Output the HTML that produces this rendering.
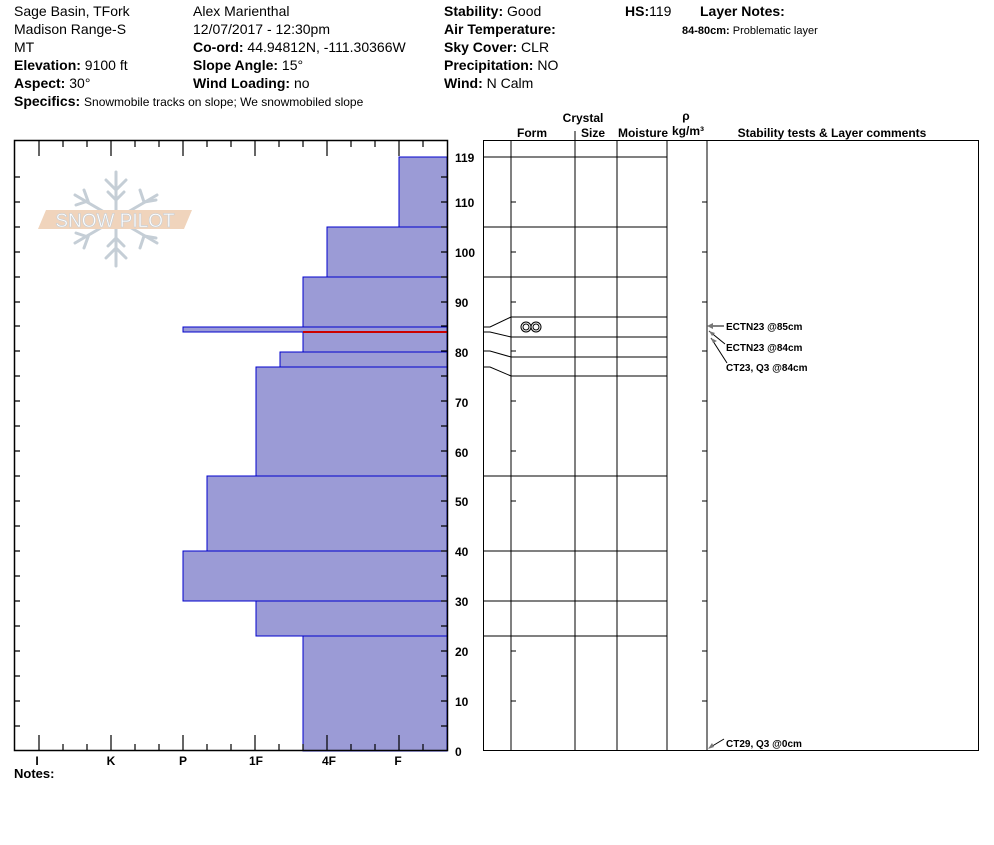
<!DOCTYPE html>
<html><head><style>
body{margin:0;background:#fff;}
svg text{font-family:"Liberation Sans",Arial,sans-serif;}
</style></head><body>
<svg width="994" height="840" viewBox="0 0 994 840" xmlns="http://www.w3.org/2000/svg">
<g font-size="14" fill="#000">
<text x="14" y="16">Sage Basin, TFork</text>
<text x="14" y="34">Madison Range-S</text>
<text x="14" y="52">MT</text>
<text x="14" y="70"><tspan font-weight="bold">Elevation:</tspan> 9100 ft</text>
<text x="14" y="88"><tspan font-weight="bold">Aspect:</tspan> 30°</text>
<text x="14" y="106"><tspan font-weight="bold">Specifics:</tspan> <tspan font-size="12">Snowmobile tracks on slope; We snowmobiled slope</tspan></text>
<text x="193" y="16">Alex Marienthal</text>
<text x="193" y="34">12/07/2017 - 12:30pm</text>
<text x="193" y="52"><tspan font-weight="bold">Co-ord:</tspan> 44.94812N, -111.30366W</text>
<text x="193" y="70"><tspan font-weight="bold">Slope Angle:</tspan> 15°</text>
<text x="193" y="88"><tspan font-weight="bold">Wind Loading:</tspan> no</text>
<text x="444" y="16"><tspan font-weight="bold">Stability:</tspan> Good</text>
<text x="444" y="34" font-weight="bold">Air Temperature:</text>
<text x="444" y="52"><tspan font-weight="bold">Sky Cover:</tspan> CLR</text>
<text x="444" y="70"><tspan font-weight="bold">Precipitation:</tspan> NO</text>
<text x="444" y="88"><tspan font-weight="bold">Wind:</tspan>  N Calm</text>
<text x="625" y="16"><tspan font-weight="bold">HS:</tspan>119</text>
<text x="700" y="16" font-weight="bold">Layer Notes:</text>
<text x="682" y="34" font-size="11"><tspan font-weight="bold">84-80cm:</tspan> Problematic layer</text>
</g>
<!-- logo -->
<g stroke="#c5ced6" stroke-width="3" fill="none" stroke-linecap="round">
<line x1="116" y1="172" x2="116" y2="266"/>
<line x1="75" y1="195" x2="157" y2="243"/>
<line x1="75" y1="243" x2="157" y2="195"/>
<path d="M106 180 L116 190 L126 180 M108 192 L116 200 L124 192 M106 258 L116 248 L126 258 M108 246 L116 238 L124 246"/>
<path d="M76 205 L88 201 L84 190 M140 190 L144 202 L156 200 M76 233 L88 237 L84 248 M140 248 L144 236 L156 238"/>
</g>
<polygon points="46,210 192,210 184,229 38,229" fill="#f0d4bc"/>
<text x="115" y="227" font-size="19" fill="#fff" stroke="#c5ced6" stroke-width="0.6" text-anchor="middle" style="font-family:'Liberation Sans',sans-serif">SNOW PILOT</text>
<!-- bars -->
<g fill="#9b9bd6" stroke="#0000cc" stroke-width="1">
<rect x="303" y="636" width="144" height="115"/>
<rect x="256" y="601" width="191" height="35"/>
<rect x="183" y="551" width="264" height="50"/>
<rect x="207" y="476" width="240" height="75"/>
<rect x="256" y="367" width="191" height="109"/>
<rect x="280" y="352" width="167" height="15"/>
<rect x="303" y="332" width="144" height="20"/>
<rect x="183" y="327" width="264" height="5"/>
<rect x="303" y="277" width="144" height="50"/>
<rect x="327" y="227" width="120" height="50"/>
<rect x="399" y="157" width="48" height="70"/>
</g>
<line x1="303" y1="332" x2="447" y2="332" stroke="#cc0000" stroke-width="2"/>
<!-- left frame -->
<rect x="14.5" y="140.5" width="433" height="610" fill="none" stroke="#000" stroke-width="1.5"/>
<g stroke="#000" stroke-width="1.2" id="ticks">
<path d="M39 140v16 M111 140v16 M183 140v16 M255 140v16 M327 140v16 M399 140v16
M63 140v7 M87 140v7 M135 140v7 M159 140v7 M207 140v7 M231 140v7 M279 140v7 M303 140v7 M351 140v7 M375 140v7 M423 140v7
M39 751v-16 M111 751v-16 M183 751v-16 M255 751v-16 M327 751v-16 M399 751v-16
M63 751v-7 M87 751v-7 M135 751v-7 M159 751v-7 M207 751v-7 M231 751v-7 M279 751v-7 M303 751v-7 M351 751v-7 M375 751v-7 M423 751v-7"/>
<path d="M14 726h6 M14 701h6 M14 676h6 M14 651h6 M14 626h6 M14 601h6 M14 576h6 M14 551h6 M14 526h6 M14 501h6 M14 476h6 M14 451h6 M14 426h6 M14 401h6 M14 376h6 M14 351h6 M14 326h6 M14 302h6 M14 277h6 M14 252h6 M14 227h6 M14 202h6 M14 177h6
M447 726h-6 M447 701h-6 M447 676h-6 M447 651h-6 M447 626h-6 M447 601h-6 M447 576h-6 M447 551h-6 M447 526h-6 M447 501h-6 M447 476h-6 M447 451h-6 M447 426h-6 M447 401h-6 M447 376h-6 M447 351h-6 M447 326h-6 M447 302h-6 M447 277h-6 M447 252h-6 M447 227h-6 M447 202h-6 M447 177h-6"/>
</g>
<g font-size="12" font-weight="bold" text-anchor="middle">
<text x="37" y="765">I</text><text x="111" y="765">K</text><text x="183" y="765">P</text><text x="256" y="765">1F</text><text x="329" y="765">4F</text><text x="398" y="765">F</text>
</g>
<text x="14" y="778" font-size="13" font-weight="bold">Notes:</text>
<g font-size="12" font-weight="bold">
<text x="455" y="162">119</text><text x="455" y="207">110</text><text x="455" y="257">100</text>
<text x="455" y="307">90</text><text x="455" y="357">80</text><text x="455" y="407">70</text><text x="455" y="457">60</text>
<text x="455" y="506">50</text><text x="455" y="556">40</text><text x="455" y="606">30</text><text x="455" y="656">20</text>
<text x="455" y="706">10</text><text x="455" y="756">0</text>
</g>
<!-- right table -->
<g font-size="12" font-weight="bold" text-anchor="middle">
<text x="583" y="122">Crystal</text>
<text x="532" y="137">Form</text><text x="593" y="137">Size</text><text x="643" y="137">Moisture</text>
<text x="686" y="120">ρ</text><text x="688" y="135">kg/m³</text>
<text x="832" y="137">Stability tests &amp; Layer comments</text>
</g>
<rect x="483.5" y="140.5" width="495" height="610" fill="none" stroke="#000" stroke-width="1"/>
<g stroke="#000" stroke-width="1" fill="none">
<path d="M511 140V751 M575 140V751 M617 140V751 M667 140V751 M707 140V751 M575 131v9"/>
<path d="M483 157H667 M483 227H667 M483 277H667 M483 476H667 M483 551H667 M483 601H667 M483 636H667"/>
<path d="M511 317H667 M511 337H667 M511 357H667 M511 376H667"/>
<path d="M483 327h7l21 -10 M483 332h7l21 5 M483 351h7l21 6 M483 367h7l21 9"/>
<path d="M511 202h5 M511 252h5 M511 302h5 M511 351h5 M511 401h5 M511 451h5 M511 501h5 M511 551h5 M511 601h5 M511 651h5 M511 701h5
M707 202h-5 M707 252h-5 M707 302h-5 M707 351h-5 M707 401h-5 M707 451h-5 M707 501h-5 M707 551h-5 M707 601h-5 M707 651h-5 M707 701h-5"/>
<circle cx="526" cy="327" r="5"/><circle cx="526" cy="327" r="3"/>
<circle cx="536" cy="327" r="5"/><circle cx="536" cy="327" r="3"/>
<path d="M709 326H724 M709 331L725 344 M711 338L727 363 M709 748L724 739" stroke="#000"/>
</g>
<g fill="#777"><polygon points="707,326 713,323 713,329"/><polygon points="709,331 715,333 712,336"/><polygon points="711,338 717,341 713,343"/><polygon points="708,749 712,743 714,747"/></g>
<g font-size="10" font-weight="bold">
<text x="726" y="330">ECTN23 @85cm</text>
<text x="726" y="351">ECTN23 @84cm</text>
<text x="726" y="371">CT23, Q3 @84cm</text>
<text x="726" y="747">CT29, Q3 @0cm</text>
</g>
</svg>
</body></html>
